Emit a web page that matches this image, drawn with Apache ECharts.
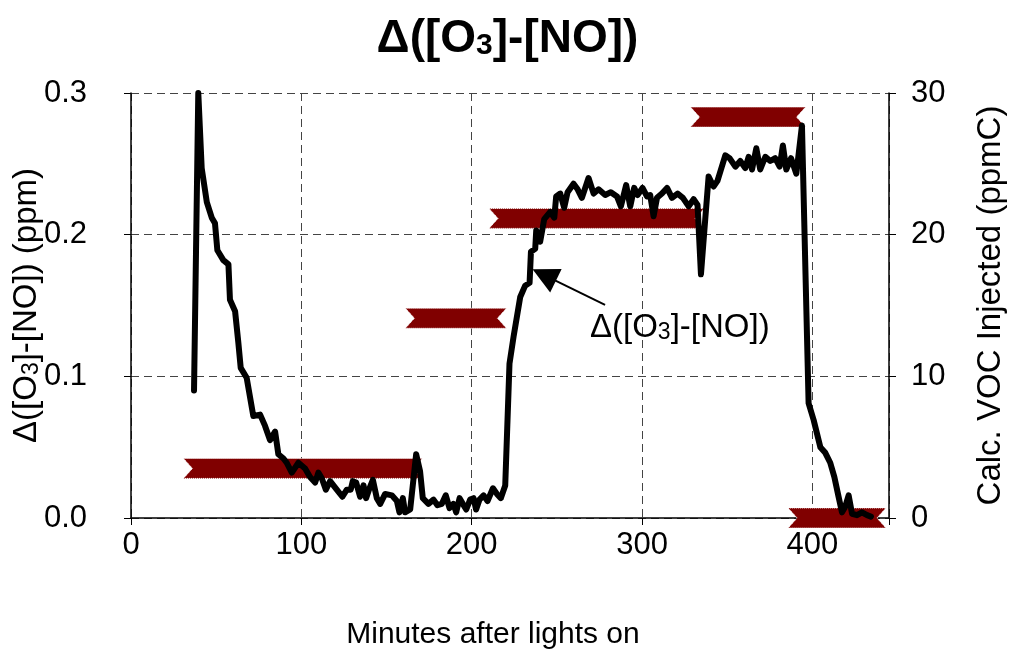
<!DOCTYPE html>
<html>
<head>
<meta charset="utf-8">
<script src="https://cdn.jsdelivr.net/npm/echarts@6/dist/echarts.min.js"></script>
<style>html,body{margin:0;padding:0;background:#fff}#c{width:1015px;height:654px}</style>
</head>
<body>
<div id="c"></div>
<script>
const minutes = [37.0,39.5,41.5,44.5,47.4,49.3,50.7,54.2,57.2,58.1,61.1,63.0,64.4,67.9,71.8,75.8,78.7,81.6,84.6,86.5,89.5,91.4,94.4,98.3,102.2,105.1,108.1,110.0,112.0,114.4,116.9,120.8,124.1,126.7,129.0,130.2,132.2,134.5,136.5,138.0,140.0,142.0,144.3,146.3,149.2,153.1,156.1,157.6,159.6,160.9,163.9,167.4,169.7,171.3,174.6,177.6,179.9,182.5,184.8,187.0,189.3,190.9,192.9,194.8,196.8,199.1,201.1,202.6,204.6,207.0,209.3,212.5,214.8,217.1,219.7,222.2,224.6,228.5,231.4,234.0,234.8,237.3,237.9,240.2,242.6,246.1,248.5,249.6,252.0,254.3,256.3,259.8,262.2,264.7,268.6,271.6,274.5,278.4,281.7,285.3,287.6,290.7,293.1,295.4,297.4,300.3,302.9,304.8,306.8,308.8,311.7,314.7,317.6,320.9,324.0,327.4,330.3,332.6,334.6,336.6,339.1,342.0,344.3,348.9,351.4,354.8,357.7,360.6,362.6,364.6,367.1,369.4,372.4,375.3,378.2,380.8,382.7,384.7,387.5,390.6,393.9,397.8,400.8,404.7,407.6,410.5,412.9,415.4,417.4,419.3,421.3,423.3,426.2,429.1,432.1,434.4];
const deltaO3NO = [0.090,0.300,0.247,0.223,0.212,0.208,0.189,0.182,0.179,0.154,0.146,0.124,0.106,0.099,0.072,0.073,0.065,0.055,0.061,0.045,0.042,0.039,0.032,0.039,0.035,0.029,0.025,0.032,0.028,0.020,0.026,0.020,0.015,0.020,0.020,0.026,0.025,0.015,0.023,0.014,0.021,0.027,0.014,0.010,0.017,0.016,0.012,0.004,0.014,0.004,0.006,0.045,0.033,0.014,0.010,0.013,0.009,0.010,0.016,0.007,0.010,0.004,0.014,0.010,0.006,0.013,0.014,0.006,0.013,0.016,0.012,0.021,0.017,0.014,0.023,0.109,0.128,0.156,0.164,0.166,0.188,0.190,0.203,0.195,0.211,0.216,0.212,0.227,0.229,0.219,0.230,0.236,0.232,0.226,0.240,0.229,0.232,0.228,0.230,0.227,0.220,0.235,0.220,0.233,0.228,0.233,0.227,0.228,0.213,0.226,0.229,0.233,0.226,0.229,0.226,0.220,0.225,0.221,0.172,0.203,0.241,0.234,0.238,0.256,0.254,0.248,0.252,0.247,0.255,0.246,0.261,0.246,0.255,0.252,0.254,0.248,0.263,0.246,0.254,0.243,0.277,0.081,0.069,0.050,0.046,0.039,0.029,0.015,0.004,0.008,0.016,0.003,0.002,0.004,0.002,0.001];

const vocStart = [30.8, 161.1, 210.2, 328.5, 385.8];
const vocEnd   = [171.0, 220.4, 336.5, 396.0, 443.2];
const vocValue = [3.5, 14.1, 21.15, 28.3, 0];

const xTicks = [0, 100, 200, 300, 400];
const yLeftTicks = [0.0, 0.1, 0.2, 0.3];
const yRightTicks = [0, 10, 20, 30];

const arrowFrom = [278.3, 0.1504];
const arrowTo = [242.6, 0.1715];

const FONT = '"Liberation Sans", Arial, sans-serif';
const chart = echarts.init(document.getElementById('c'));

const lineData = minutes.map((m, i) => [m, deltaO3NO[i]]);
const vocData = vocStart.map((s, i) => [s, vocEnd[i], vocValue[i]]);

const subRich = {
  s: { fontSize: 23, fontFamily: FONT, color: '#000', padding: [0, 0, -10, 0] }
};

chart.setOption({
  animation: false,
  backgroundColor: '#fff',
  title: {
    text: 'Δ([O{s|3}]-[NO])',
    left: 'center',
    top: 11,
    textStyle: {
      fontFamily: FONT, fontWeight: 'bold', fontSize: 46, color: '#000',
      rich: { s: { fontSize: 30, fontWeight: 'bold', fontFamily: FONT, color: '#000', padding: [0, 0, -14, 0] } }
    }
  },
  grid: { left: 131, right: 126, top: 93, bottom: 136, containLabel: false, outerBoundsMode: 'none' },
  xAxis: {
    type: 'value', min: 0, max: 445, interval: 100,
    name: 'Minutes after lights on', nameLocation: 'middle', nameGap: 102, nameMoveOverlap: false,
    nameTextStyle: { fontFamily: FONT, fontSize: 30, color: '#000', padding: [0, 34, 0, 0] },
    axisLine: { show: true, lineStyle: { color: '#000', width: 1.5 } },
    axisTick: { show: true, inside: false, length: 7, lineStyle: { color: '#000' } },
    axisLabel: {
      fontFamily: FONT, fontSize: 31, color: '#000', margin: 12,
      formatter: v => xTicks.includes(v) ? String(v) : ''
    },
    splitLine: { show: true, lineStyle: { color: '#444', type: [8, 5], width: 1 } }
  },
  yAxis: [
    {
      type: 'value', min: 0, max: 0.3, interval: 0.1,
      name: 'Δ([O{s|3}]-[NO]) (ppm)', nameLocation: 'middle', nameGap: 88, nameMoveOverlap: false,
      nameTextStyle: { fontFamily: FONT, fontSize: 33, color: '#000', rich: subRich },
      axisLine: { show: true, lineStyle: { color: '#000', width: 1.5 } },
      axisTick: { show: true, length: 7, lineStyle: { color: '#000' } },
      axisLabel: { fontFamily: FONT, fontSize: 31, color: '#000', margin: 44,
        formatter: v => yLeftTicks.some(t => Math.abs(t - v) < 1e-9) ? v.toFixed(1) : '' },
      splitLine: { show: true, lineStyle: { color: '#444', type: [8, 5], width: 1 } }
    },
    {
      type: 'value', min: 0, max: 30, interval: 10, position: 'right',
      name: 'Calc. VOC Injected (ppmC)', nameLocation: 'middle', nameGap: 85, nameRotate: 90, nameMoveOverlap: false,
      nameTextStyle: { fontFamily: FONT, fontSize: 33, color: '#000' },
      axisLine: { show: true, lineStyle: { color: '#000', width: 1.5 } },
      axisTick: { show: true, length: 7, lineStyle: { color: '#000' } },
      axisLabel: { fontFamily: FONT, fontSize: 31, color: '#000', margin: 22,
        formatter: v => yRightTicks.includes(v) ? String(v) : '' },
      splitLine: { show: false }
    }
  ],
  series: [
    {
      type: 'custom',
      yAxisIndex: 1,
      data: vocData,
      clip: false,
      z: 2,
      renderItem: function (params, api) {
        const a = api.coord([api.value(0), api.value(2)]);
        const b = api.coord([api.value(1), api.value(2)]);
        const h = 10, n = 9;
        return {
          type: 'polygon',
          shape: { points: [
            [a[0], a[1] - h], [b[0], b[1] - h], [b[0] - n, b[1]], [b[0], b[1] + h],
            [a[0], a[1] + h], [a[0] + n, a[1]]
          ] },
          style: { fill: '#800000', stroke: '#fff', lineWidth: 1, lineDash: [1, 1] }
        };
      }
    },
    {
      type: 'line',
      yAxisIndex: 0,
      data: lineData,
      showSymbol: false,
      z: 5,
      lineStyle: { color: '#000', width: 6, join: 'round', cap: 'round' },
      markLine: {
        silent: true,
        symbol: ['none', 'triangle'],
        symbolSize: [26, 26],
        label: { show: false },
        lineStyle: { color: '#000', width: 2, type: 'solid' },
        data: [[{ coord: arrowFrom }, { coord: arrowTo }]]
      }
    }
  ],
  graphic: [
    {
      type: 'text', left: 590, top: 311, z: 10,
      style: {
        text: 'Δ([O{s|3}]-[NO])',
        fontFamily: FONT, fontSize: 33, fill: '#000',
        rich: { s: { fontSize: 23, fontFamily: FONT, fill: '#000', padding: [0, 0, -10, 0] } }
      }
    }
  ]
});
</script>
</body>
</html>
